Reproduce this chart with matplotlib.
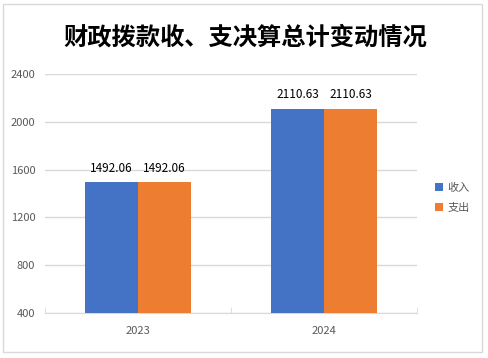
import matplotlib.pyplot as plt
import numpy as np
from matplotlib.patches import Rectangle

plt.rcParams['font.family'] = ['Noto Sans CJK SC', 'DejaVu Sans']

years = ['2023', '2024']
income = [1492.06, 2110.63]
expense = [1492.06, 2110.63]
series_names = ['收入', '支出']
yticks = [400, 800, 1200, 1600, 2000, 2400]

blue = '#4472c4'
orange = '#ed7d31'
grid_c = '#d9d9d9'
text_c = '#595959'

fig = plt.figure(figsize=(4.89, 3.58), dpi=100)
W, H = 489, 358
# outer frame
fig.patches.append(Rectangle((3 / W, 6 / H), 479 / W, 348 / H, transform=fig.transFigure,
                             fill=False, edgecolor=grid_c, linewidth=1))

ax = fig.add_axes([45 / W, (H - 313) / H, 372 / W, 239 / H])
x = np.arange(len(years))
w = 0.285
b1 = ax.bar(x - w / 2, np.array(income) - 400, w, bottom=400, color=blue, label=series_names[0], zorder=3)
b2 = ax.bar(x + w / 2, np.array(expense) - 400, w, bottom=400, color=orange, label=series_names[1], zorder=3)

for bars, vals in ((b1, income), (b2, expense)):
    for r, v in zip(bars, vals):
        ax.text(r.get_x() + r.get_width() / 2, v + 65, f'{v:.2f}', ha='center', va='bottom',
                fontsize=8.5, color='black')

ax.set_xlim(-0.5, 1.5)
ax.set_ylim(400, 2400)
ax.set_yticks(yticks)
ax.set_yticklabels([str(t) for t in yticks], fontsize=8, color=text_c)
ax.yaxis.grid(True, color=grid_c, linewidth=1, zorder=0)
ax.tick_params(axis='y', length=0, pad=7)
ax.set_xticks(x)
ax.set_xticklabels(years, fontsize=8, color=text_c)
ax.set_xticks([-0.5, 0.5, 1.5], minor=True)
ax.tick_params(axis='x', which='major', length=0, pad=9)
ax.tick_params(axis='x', which='minor', length=4, color=grid_c, direction='in')
for s in ['top', 'right', 'left']:
    ax.spines[s].set_visible(False)
ax.spines['bottom'].set_color(grid_c)

fig.text(245 / W, (H - 38) / H, '财政拨款收、支决算总计变动情况', ha='center', va='center',
         fontsize=17.5, fontweight='bold', color='black')

ax.legend(loc='center left', bbox_to_anchor=(425 / W, (H - 198) / H), bbox_transform=fig.transFigure,
          frameon=False, fontsize=8, handlelength=0.7, handleheight=0.7, handletextpad=0.4,
          labelspacing=0.9, labelcolor=text_c)

fig.savefig('out.png', dpi=100)
